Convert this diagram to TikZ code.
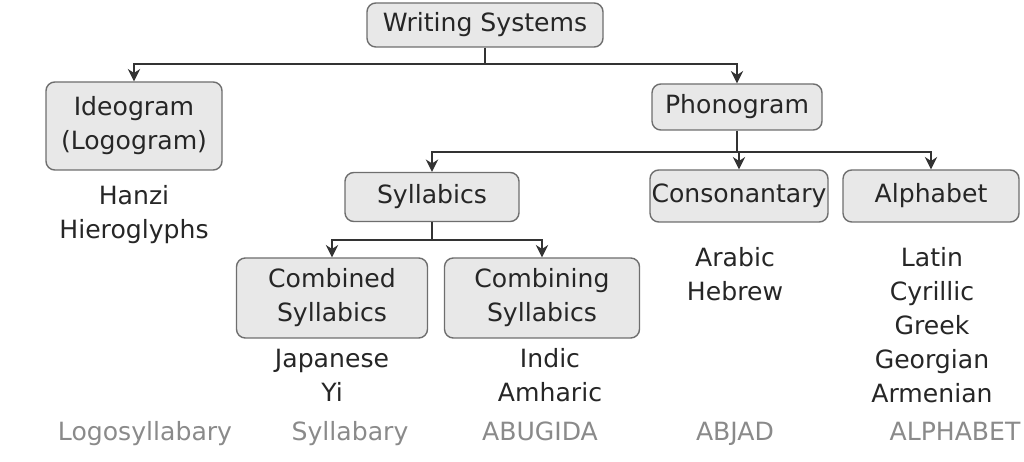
\documentclass[tikz,border=0pt]{standalone}
\usepackage{fontspec}
\setmainfont{DejaVu Sans}
\usetikzlibrary{arrows.meta}

\definecolor{boxfill}{HTML}{E8E8E8}
\definecolor{boxline}{HTML}{6E6E6E}
\definecolor{wire}{HTML}{333333}
\definecolor{kind}{HTML}{8A8A8A}

\tikzset{
  box/.style={draw=boxline, fill=boxfill, rounded corners=5pt, line width=0.8pt,
    inner sep=0pt, align=center, text=black!85},
  wire/.style={draw=wire, line width=1.6pt},
  arr/.style={wire, -{Stealth[length=7pt,width=7pt]}},
  list/.style={align=center, text=black!85},
  kind/.style={text=kind, anchor=base}
}

\begin{document}
\begin{tikzpicture}[x=0.02cm, y=-0.02cm, font=\fontsize{14.3}{19.3}\selectfont]
  \useasboundingbox (0,0) rectangle (1024,462);

  % boxes
  \node[box, minimum width=236*0.02cm, minimum height=44*0.02cm] (ws) at (485,25) {Writing Systems};
  \node[box, minimum width=176*0.02cm, minimum height=88*0.02cm] (ideo) at (134,126) {Ideogram\\(Logogram)};
  \node[box, minimum width=170*0.02cm, minimum height=46*0.02cm] (phono) at (737,107) {Phonogram};
  \node[box, minimum width=174*0.02cm, minimum height=49*0.02cm] (syl) at (432,197) {Syllabics};
  \node[box, minimum width=178*0.02cm, minimum height=52*0.02cm] (cons) at (739,196) {Consonantary};
  \node[box, minimum width=176*0.02cm, minimum height=52*0.02cm] (alph) at (931,196) {Alphabet};
  \node[box, minimum width=191*0.02cm, minimum height=80*0.02cm] (cmbd) at (332,298) {Combined\\Syllabics};
  \node[box, minimum width=195*0.02cm, minimum height=80*0.02cm] (cmbg) at (542,298) {Combining\\Syllabics};

  % branch points
  \coordinate (j1) at (485,64);
  \coordinate (j2) at (737,152);
  \coordinate (j3) at (432,240);

  \draw[wire] (ws.south) -- (j1);
  \draw[arr] (j1) -| (ideo.north);
  \draw[arr] (j1) -| (phono.north);

  \draw[wire] (phono.south) -- (j2);
  \draw[arr] (j2) -| (syl.north);
  \draw[arr] (j2) -| (cons.north);
  \draw[arr] (j2) -| (alph.north);

  \draw[wire] (syl.south) -- (j3);
  \draw[arr] (j3) -| (cmbd.north);
  \draw[arr] (j3) -| (cmbg.north);

  % examples
  \node[list] (ideoex) at (134,215) {Hanzi\\Hieroglyphs};
  \node[list] (consex) at (735,274) {Arabic\\Hebrew};
  \node[list] (alphex) at (932,325) {Latin\\Cyrillic\\Greek\\Georgian\\Armenian};
  \node[list] (cmbdex) at (332,375) {Japanese\\Yi};
  \node[list] (cmbgex) at (550,375) {Indic\\Amharic};

  % script types
  \node[kind] (k1) at (145,440) {Logosyllabary};
  \node[kind] (k2) at (350,440) {Syllabary};
  \node[kind] (k3) at (540,440) {ABUGIDA};
  \node[kind] (k4) at (735,440) {ABJAD};
  \node[kind] (k5) at (955,440) {ALPHABET};
\end{tikzpicture}
\end{document}
